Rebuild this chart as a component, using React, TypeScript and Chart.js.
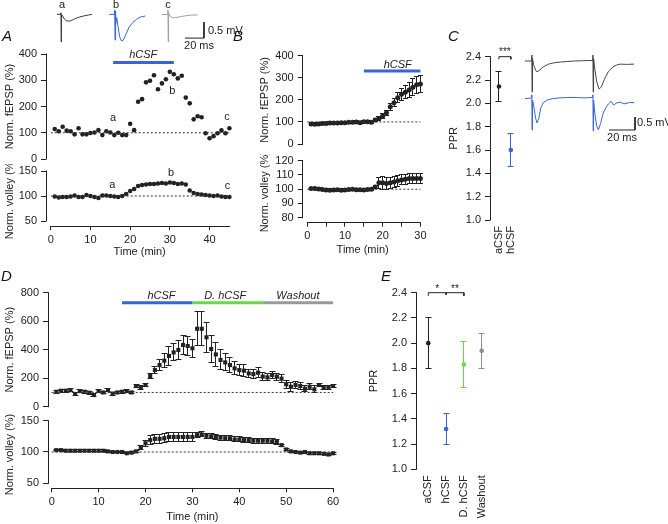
import React, { useEffect, useRef } from 'react';
import { Chart, registerables } from 'chart.js';

Chart.register(...registerables);

const FONT = '"Liberation Sans", Arial, Helvetica, sans-serif';
const INK = '#222222';
const BLUE = '#3b63d8';
const GREEN = '#62dc40';
const GREY = '#9a9a9a';

Chart.defaults.font.family = FONT;
Chart.defaults.font.size = 11;
Chart.defaults.color = INK;

// ---------------- Panel A ----------------
const timeA = [1,2,3,4,5,6,7,8,9,10,11,12,13,14,15,16,17,18,19,20,21,22,23,24,25,26,27,28,29,30,31,32,33,34,35,36,37,38,39,40,41,42,43,44,45];
const fepspA = [114,106,123,108,106,94,117,94,94,99,101,110,91,106,101,91,100,91,91,134,110,218,228,292,298,319,266,288,304,332,323,307,317,234,212,151,163,159,98,79,87,98,109,98,117];
const volleyA = [99,97,98,98,99,101,98,98,102,100,98,96,101,101,100,99,98,100,104,110,114,120,122,123,124,124,125,126,125,127,126,124,125,123,111,106,104,103,102,101,100,101,99,98,98];
const hcsfA = [15.7, 31];
const fepspTicksA = [0, 100, 200, 300, 400];
const volleyTicksA = [50, 100, 150];
const timeTicksA = [0, 10, 20, 30, 40];

// inset traces (ms, mV)
const traceATime = [2, 6, 6.3, 6.5, 6.8, 8, 10, 12, 15, 18, 22, 26, 30, 35, 39];
const traceAVolt = [0, 0, 0.05, -0.86, 0, -0.05, -0.15, -0.2, -0.21, -0.18, -0.12, -0.08, -0.05, -0.02, 0];
const traceBTime = [57, 62.5, 62.8, 63.2, 63.6, 64, 65, 66.5, 68, 70, 72, 75, 78, 82, 86, 90, 95];
const traceBVolt = [0, 0, 0.14, -0.8, 0.1, -0.3, -0.1, -0.4, -0.7, -0.83, -0.8, -0.6, -0.4, -0.25, -0.15, -0.08, -0.05];
const traceCTime = [112.6, 118.6, 118.9, 119.2, 119.6, 121, 124, 127, 132, 138, 144, 150];
const traceCVolt = [0, 0, 0.14, -0.86, 0.05, -0.05, -0.11, -0.1, -0.07, -0.04, -0.02, -0.02];
const scaleBarA = [156.8, -0.74]; // corner (ms, mV); 20 ms x 0.5 mV

// ---------------- Panel B ----------------
const timeB = [1,2,3,4,5,6,7,8,9,10,11,12,13,14,15,16,17,18,19,20,21,22,23,24,25,26,27,28,29,30];
const fepspB = [91,90,91,93,93,95,95,95,96,96,98,98,100,96,101,101,98,109,115,127,142,169,187,210,225,234,245,257,268,272];
const fepspBErr = [5,5,5,5,5,5,5,5,5,5,5,5,5,5,5,5,5,6,8,10,12,15,18,22,26,30,34,38,40,40];
const volleyB = [100.5,100.5,100.2,99.8,99.5,99.3,99.5,99.7,99.2,99.5,99.8,100,99.6,99.7,99.5,99.8,100,101.5,104.5,104.5,104,104.5,105,106,106.5,107,107.5,107.5,107.5,107.5];
const volleyBErr = [0.8,0.8,0.8,0.8,0.8,0.8,0.8,0.8,0.8,0.8,0.8,0.8,0.8,0.8,0.8,0.8,0.8,0.8,4,4.5,4.5,4,4,3.8,3.5,3.5,3.5,3.5,3.5,3.5];
const hcsfB = [15, 30];
const fepspTicksB = [0, 100, 200, 300, 400];
const volleyTicksB = [80, 90, 100, 110, 120];
const timeTicksB = [0, 5, 10, 15, 20, 25, 30];

// ---------------- Panel C ----------------
const pprCLabels = ['aCSF', 'hCSF'];
const pprCMean = [2.145, 1.6];
const pprCErr = [0.125, 0.14];
const pprTicks = [1.0, 1.2, 1.4, 1.6, 1.8, 2.0, 2.2, 2.4];
const ppBlackTime = [3.8,9,9.1,9.3,9.6,10.5,12,13.1,15,18,22,26,31,36,42,48,53,56,56.1,56.3,56.6,57.5,59,60.8,62.5,65,68,71,74,77,82,87.7];
const ppBlackVolt = [0,0,0.23,-1.19,0.1,-0.15,-0.35,-0.42,-0.35,-0.22,-0.12,-0.07,-0.04,-0.02,0,0.01,0.02,0.02,0.23,-1.19,0.1,-0.3,-0.8,-1.08,-1.0,-0.7,-0.4,-0.25,-0.16,-0.12,-0.13,-0.12];
const ppBlueTime = [3.8,9,9.1,9.3,9.6,10.5,12,13.1,14.5,16,18,21,25,30,40,50,56,56.1,56.3,56.6,57.5,59,60.3,62,64,66,68,70,72,74,77,80,84,87.7];
const ppBlueVolt = [-1.45,-1.42,-1.3,-2.65,-1.5,-1.7,-2.2,-2.38,-2.2,-1.8,-1.6,-1.5,-1.45,-1.42,-1.4,-1.42,-1.4,-1.3,-2.69,-1.5,-2.0,-2.5,-2.65,-2.4,-2.0,-1.8,-1.65,-1.55,-1.7,-1.62,-1.58,-1.65,-1.6,-1.6];
const scaleBarC = [88.5, -2.654];

// ---------------- Panel D ----------------
const timeD = [1,2,3,4,5,6,7,8,9,10,11,12,13,14,15,16,17,18,19,20,21,22,23,24,25,26,27,28,29,30,31,32,33,34,35,36,37,38,39,40,41,42,43,44,45,46,47,48,49,50,51,52,53,54,55,56,57,58,59,60];
const fepspD = [105,112,112,117,89,110,105,98,82,110,100,117,92,100,105,110,100,145,136,152,215,257,292,323,356,381,398,433,426,410,547,547,487,405,367,328,311,292,269,257,253,234,229,239,211,206,222,211,197,157,140,152,145,126,140,122,152,136,133,145];
const fepspDErr = [12,12,12,12,10,12,10,10,12,10,10,12,10,10,10,10,10,12,12,12,15,25,40,50,65,60,70,70,65,65,118,118,105,95,85,70,60,55,45,40,40,30,30,35,30,25,25,25,30,30,30,25,25,20,20,25,10,15,15,10];
const volleyD = [103,103,102,102,102,102,102,102,102,102,102,101,100,100,100,98,99,101,107,114,119,121,121,122,124,124,124,124,124,124,127,128,126,125,124,123,122,122,120,120,119,119,118,118,118,118,117,116,111,104,101,100,99,100,98,98,98,97,96,98];
const volleyDErr = [1.2,1.2,1.2,1.2,1.2,1.2,1.2,1.2,1.2,1.2,1.2,1.2,1.2,1.2,1.2,1.2,1.2,1.2,3,5,7,7,7,7,7,7,7,7,7,7,4,4,4,4,4,4,4,4,4,4,4,4,4,4,4,4,4,4,1.5,1.5,1.5,1.5,1.5,1.5,1.5,1.5,1.5,1.5,1.5,1.5];
const phasesD = ['hCSF', 'D. hCSF', 'Washout'];
const phaseStartD = [15, 30, 45];
const phaseEndD = [30, 45, 60];
const fepspTicksD = [0, 200, 400, 600, 800];
const volleyTicksD = [50, 100, 150];
const timeTicksD = [0, 10, 20, 30, 40, 50, 60];

// ---------------- Panel E ----------------
const pprELabels = ['aCSF', 'hCSF', 'D. hCSF', 'Washout'];
const pprEMean = [2.0, 1.32, 1.83, 1.94];
const pprEErr = [0.2, 0.12, 0.18, 0.14];

// ---------------- helpers ----------------
type Box = { left: number; top: number; width: number; height: number };
type Geo = { canvasLeft: number; left: number; right: number; top: number; bottom: number; xH: number; padT?: number; padB?: number; padR?: number };

function geom(g: Geo) {
  const padT0 = g.padT ?? 8;
  const padB = g.padB ?? 4;
  const padR = g.padR ?? 8;
  const cTop = Math.round(g.top - padT0);
  const padT = g.top - cTop;
  const W = Math.ceil(g.right - g.canvasLeft + padR);
  const H = Math.ceil(g.bottom - g.top + padT + g.xH + padB);
  return {
    box: { left: g.canvasLeft, top: cTop, width: W, height: H } as Box,
    yW: g.left - g.canvasLeft,
    xH: g.xH,
    padding: { left: 0, top: padT, right: W - (g.right - g.canvasLeft), bottom: H - (g.bottom - g.top + padT + g.xH) },
  };
}

const pts = (xs: number[], ys: number[]) => xs.map((x, i) => ({ x, y: ys[i] }));
const seg = (x0: number, x1: number, y: number) => [{ x: x0, y }, { x: x1, y }];

function lineDs(data: any[], color: string, width: number, dash: number[] = []) {
  return { type: 'line', data, borderColor: color, borderWidth: width, borderDash: dash, pointRadius: 0, showLine: true, fill: false, tension: 0, clip: false };
}
function dotDs(data: any[], color: string, r: number, style = 'circle', errors?: number[], cap = 2.5) {
  return {
    type: 'line', data, showLine: false, pointRadius: r, pointStyle: style,
    pointBackgroundColor: color, pointBorderColor: color, pointBorderWidth: 0,
    backgroundColor: color, borderColor: color, errors, cap, clip: false,
  };
}

function yAxis(min: number, max: number, ticks: number[], title: string, yW: number, fmt?: (v: number) => string) {
  return {
    type: 'linear', min, max, position: 'left',
    afterBuildTicks: (s: any) => { s.ticks = ticks.map((v) => ({ value: v })); },
    afterFit: (s: any) => { s.width = yW; s.paddingTop = 0; s.paddingBottom = 0; },
    grid: { display: true, drawOnChartArea: false, drawTicks: true, tickLength: 5, color: INK, lineWidth: 1 },
    border: { display: false },
    ticks: { color: INK, font: { family: FONT, size: 11 }, padding: 4, autoSkip: false, callback: (v: any) => (fmt ? fmt(Number(v)) : String(v)) },
    title: { display: !!title, text: title, color: INK, font: { family: FONT, size: 11 }, padding: 0 },
  };
}
function xAxis(min: number, max: number, ticks: number[], title: string, xH: number, labelEvery = 10) {
  return {
    type: 'linear', min, max, position: 'bottom',
    afterBuildTicks: (s: any) => { s.ticks = ticks.map((v) => ({ value: v })); },
    afterFit: (s: any) => { s.height = xH; s.paddingLeft = 0; s.paddingRight = 0; },
    grid: { display: true, drawOnChartArea: false, drawTicks: true, tickLength: 4, color: INK, lineWidth: 1 },
    border: { display: false },
    ticks: { color: INK, font: { family: FONT, size: 11 }, padding: 3, autoSkip: false, maxRotation: 0, minRotation: 0,
      callback: (v: any) => (Number(v) % labelEvery === 0 ? String(v) : '') },
    title: { display: !!title, text: title, color: INK, font: { family: FONT, size: 11 }, padding: 0 },
  };
}
function catAxis(min: number, max: number, labels: string[], xH: number) {
  return {
    type: 'linear', min, max, position: 'bottom',
    afterBuildTicks: (s: any) => { s.ticks = labels.map((_, i) => ({ value: i + 1 })); },
    afterFit: (s: any) => { s.height = xH; s.paddingLeft = 0; s.paddingRight = 0; },
    grid: { display: false, drawTicks: false, tickLength: 0 },
    border: { display: false },
    ticks: { color: INK, font: { family: FONT, size: 11 }, padding: 6, autoSkip: false, minRotation: 90, maxRotation: 90,
      callback: (v: any) => labels[Math.round(Number(v)) - 1] ?? '' },
  };
}
const hidden = (min: number, max: number) => ({ type: 'linear', display: false, min, max });

type Note = { x: number; y: number; text: string; size?: number; italic?: boolean; align?: string; color?: string };
function notesPlugin(items: Note[]) {
  return {
    id: 'notes',
    afterDraw(chart: any) {
      const { ctx } = chart;
      const xs = chart.scales.x, ys = chart.scales.y;
      ctx.save();
      for (const it of items) {
        ctx.font = `${it.italic ? 'italic ' : ''}${it.size ?? 11}px ${FONT}`;
        ctx.fillStyle = it.color ?? INK;
        ctx.textAlign = it.align ?? 'center';
        ctx.textBaseline = 'middle';
        ctx.fillText(it.text, xs.getPixelForValue(it.x), ys.getPixelForValue(it.y));
      }
      ctx.restore();
    },
  };
}
const al = (p: number) => Math.round(p - 0.5) + 0.5;
type AxLine = { axis: 'x' | 'y'; from: number; to: number };
function axesPlugin(lines: AxLine[]) {
  return {
    id: 'axesLines',
    afterDraw(chart: any) {
      const { ctx, chartArea } = chart;
      ctx.save();
      ctx.strokeStyle = INK;
      ctx.lineWidth = 1;
      ctx.beginPath();
      for (const l of lines) {
        if (l.axis === 'y') {
          const s = chart.scales.y;
          const x = al(chartArea.left);
          ctx.moveTo(x, s.getPixelForValue(l.from) + 0.5);
          ctx.lineTo(x, s.getPixelForValue(l.to) - 0.5);
        } else {
          const s = chart.scales.x;
          const y = al(chartArea.bottom);
          ctx.moveTo(s.getPixelForValue(l.from) - 0.5, y);
          ctx.lineTo(s.getPixelForValue(l.to) + 0.5, y);
        }
      }
      ctx.stroke();
      ctx.restore();
    },
  };
}
const errorBars = {
  id: 'errorBars',
  beforeDatasetsDraw(chart: any) {
    const { ctx } = chart;
    const xs = chart.scales.x, ys = chart.scales.y;
    chart.data.datasets.forEach((ds: any) => {
      if (!ds.errors) return;
      ctx.save();
      ctx.strokeStyle = ds.borderColor;
      ctx.lineWidth = 1;
      ctx.beginPath();
      ds.data.forEach((p: any, i: number) => {
        const e = ds.errors[i];
        if (!e) return;
        const x = al(xs.getPixelForValue(p.x));
        const y1 = ys.getPixelForValue(p.y + e);
        const y2 = ys.getPixelForValue(p.y - e);
        const c = ds.cap ?? 2.5;
        ctx.moveTo(x, y1); ctx.lineTo(x, y2);
        ctx.moveTo(x - c, al(y1)); ctx.lineTo(x + c, al(y1));
        ctx.moveTo(x - c, al(y2)); ctx.lineTo(x + c, al(y2));
      });
      ctx.stroke();
      ctx.restore();
    });
  },
};
Chart.register(errorBars as any);

function cfg(datasets: any[], scales: any, padding: any, plugins: any[]) {
  return {
    type: 'line',
    data: { datasets },
    options: {
      animation: false, responsive: false, maintainAspectRatio: false, events: [],
      layout: { padding },
      plugins: { legend: { display: false }, tooltip: { enabled: false }, title: { display: false } },
      scales,
    },
    plugins,
  } as any;
}

// ---------------- geometry ----------------
const A_X = [-1.2, 46];
const gA1 = geom({ canvasLeft: 3, left: 46, right: 46 + (A_X[1] - A_X[0]) * 3.97, top: 54, bottom: 159, xH: 0, padT: 8, padB: 8 });
const gA2 = geom({ canvasLeft: 3, left: 46, right: 46 + (A_X[1] - A_X[0]) * 3.97, top: 171, bottom: 226, xH: 33, padT: 7, padB: 2 });
const B_X = [-1.22, 30.6];
const gB1 = geom({ canvasLeft: 258, left: 302.7, right: 302.7 + (B_X[1] - B_X[0]) * 3.77, top: 55.7, bottom: 144, xH: 0, padT: 8, padB: 8 });
const gB2 = geom({ canvasLeft: 258, left: 302.7, right: 302.7 + (B_X[1] - B_X[0]) * 3.77, top: 160.7, bottom: 222.7, xH: 34, padT: 7, padB: 2 });
const C_X = [0.25, 2.6];
const gC = geom({ canvasLeft: 447, left: 490, right: 490 + (C_X[1] - C_X[0]) * 12.4, top: 56.7, bottom: 220, xH: 36, padT: 14, padB: 2, padR: 2 });
const D_X = [-0.79, 60.8];
const gD1 = geom({ canvasLeft: 3, left: 48, right: 48 + (D_X[1] - D_X[0]) * 4.69, top: 292.7, bottom: 406.7, xH: 0, padT: 8, padB: 8 });
const gD2 = geom({ canvasLeft: 3, left: 48, right: 48 + (D_X[1] - D_X[0]) * 4.69, top: 420.7, bottom: 488.3, xH: 35, padT: 7, padB: 0 });
const E_X = [0.31, 4.6];
const gE = geom({ canvasLeft: 367, left: 416, right: 416 + (E_X[1] - E_X[0]) * 17.8, top: 292.7, bottom: 469.3, xH: 52, padT: 14, padB: 2, padR: 4 });
const insetABox: Box = { left: 50, top: 0, width: 200, height: 52 };
const insetAPad = { left: 5, top: 0, right: 35, bottom: 2 };
const insetCBox: Box = { left: 515, top: 45, width: 153, height: 100 };
const insetCPad = { left: 5, top: 5, right: 28, bottom: 5 };

type Spec = { box: Box; make: () => any };

const specs: Spec[] = [
  // A top
  {
    box: gA1.box,
    make: () => cfg(
      [
        lineDs(seg(0, 45, 100), '#333', 1, [2, 2]),
        lineDs(seg(hcsfA[0], hcsfA[1], 368), BLUE, 3),
        dotDs(pts(timeA, fepspA), INK, 2.3),
      ],
      { x: hidden(A_X[0], A_X[1]), y: yAxis(0, 400, fepspTicksA, 'Norm. fEPSP (%)', gA1.yW) },
      gA1.padding,
      [axesPlugin([{ axis: 'y', from: 0, to: 400 }]), notesPlugin([
        { x: 23.3, y: 395, text: 'hCSF', italic: true },
        { x: 15.7, y: 156, text: 'a' }, { x: 30.6, y: 258, text: 'b' }, { x: 44.4, y: 161, text: 'c' },
      ])],
    ),
  },
  // A bottom
  {
    box: gA2.box,
    make: () => cfg(
      [lineDs(seg(0, 45, 100), '#333', 1, [2, 2]), dotDs(pts(timeA, volleyA), INK, 2.3)],
      { x: xAxis(A_X[0], A_X[1], timeTicksA, 'Time (min)', gA2.xH), y: yAxis(40, 150, volleyTicksA, 'Norm. volley (%)', gA2.yW) },
      gA2.padding,
      [axesPlugin([{ axis: 'y', from: 50, to: 150 }, { axis: 'x', from: 0, to: 45 }]), notesPlugin([
        { x: 15.5, y: 122, text: 'a' }, { x: 30.3, y: 147, text: 'b' }, { x: 44.5, y: 120, text: 'c' },
      ])],
    ),
  },
  // A inset traces
  {
    box: insetABox,
    make: () => cfg(
      [
        lineDs(pts(traceATime, traceAVolt), '#3a3a3a', 1),
        lineDs(pts(traceBTime, traceBVolt), BLUE, 1),
        lineDs(pts(traceCTime, traceCVolt), '#a0a0a0', 1),
        lineDs([{ x: scaleBarA[0], y: scaleBarA[1] + 0.5 }, { x: scaleBarA[0], y: scaleBarA[1] }, { x: scaleBarA[0] - 20, y: scaleBarA[1] }], INK, 1),
      ],
      { x: hidden(0, 160 / 0.95), y: hidden(0.45 - 50 / 32, 0.45) },
      insetAPad,
      [notesPlugin([
        { x: 7.4, y: 0.29, text: 'a' }, { x: 64.2, y: 0.29, text: 'b' }, { x: 119, y: 0.29, text: 'c' },
        { x: 161, y: -0.52, text: '0.5 mV', align: 'left' }, { x: 151.6, y: -0.99, text: '20 ms' },
      ])],
    ),
  },
  // B top
  {
    box: gB1.box,
    make: () => cfg(
      [
        lineDs(seg(0, 30, 100), '#333', 1, [2, 2]),
        lineDs(seg(hcsfB[0], hcsfB[1], 331), BLUE, 3),
        dotDs(pts(timeB, fepspB), INK, 2.5, 'circle', fepspBErr, 2.5),
      ],
      { x: hidden(B_X[0], B_X[1]), y: yAxis(0, 400, fepspTicksB, 'Norm. fEPSP (%)', gB1.yW) },
      gB1.padding,
      [axesPlugin([{ axis: 'y', from: 0, to: 400 }]), notesPlugin([{ x: 24, y: 358, text: 'hCSF', italic: true }])],
    ),
  },
  // B bottom
  {
    box: gB2.box,
    make: () => cfg(
      [lineDs(seg(0, 30, 100), '#333', 1, [2, 2]), dotDs(pts(timeB, volleyB), INK, 2.5, 'circle', volleyBErr, 2.5)],
      { x: xAxis(B_X[0], B_X[1], timeTicksB, 'Time (min)', gB2.xH), y: yAxis(76.5, 120, volleyTicksB, 'Norm. volley (%)', gB2.yW) },
      gB2.padding,
      [axesPlugin([{ axis: 'y', from: 80, to: 120 }, { axis: 'x', from: 0, to: 30 }])],
    ),
  },
  // C
  {
    box: gC.box,
    make: () => cfg(
      [
        dotDs([{ x: 1, y: pprCMean[0] }], INK, 2.3, 'circle', [pprCErr[0]], 3),
        dotDs([{ x: 2, y: pprCMean[1] }], BLUE, 2.3, 'circle', [pprCErr[1]], 3),
        lineDs([{ x: 1, y: 2.378 }, { x: 1, y: 2.4 }, { x: 2, y: 2.4 }, { x: 2, y: 2.378 }], INK, 1),
      ],
      { x: catAxis(C_X[0], C_X[1], pprCLabels, gC.xH), y: yAxis(1.0, 2.4, pprTicks, 'PPR', gC.yW, (v) => v.toFixed(1)) },
      gC.padding,
      [axesPlugin([{ axis: 'y', from: 1.0, to: 2.4 }]), notesPlugin([{ x: 1.5, y: 2.44, text: '***', size: 10 }])],
    ),
  },
  // C traces
  {
    box: insetCBox,
    make: () => cfg(
      [
        lineDs(pts(ppBlackTime, ppBlackVolt), '#444', 1),
        lineDs(pts(ppBlueTime, ppBlueVolt), BLUE, 1),
        lineDs([{ x: scaleBarC[0], y: scaleBarC[1] + 0.5 }, { x: scaleBarC[0], y: scaleBarC[1] }, { x: scaleBarC[0] - 20, y: scaleBarC[1] }], INK, 1),
      ],
      { x: hidden(0, 120 / 1.3), y: hidden(11 / 26 - 90 / 26, 11 / 26) },
      insetCPad,
      [notesPlugin([{ x: 90, y: -2.38, text: '0.5 mV', align: 'left' }, { x: 78.5, y: -2.96, text: '20 ms' }])],
    ),
  },
  // D top
  {
    box: gD1.box,
    make: () => cfg(
      [
        lineDs(seg(0, 60, 100), '#333', 1, [2, 2]),
        lineDs(seg(phaseStartD[0], phaseEndD[0], 730), BLUE, 3),
        lineDs(seg(phaseStartD[1], phaseEndD[1], 730), GREEN, 3),
        lineDs(seg(phaseStartD[2], phaseEndD[2], 730), GREY, 3),
        dotDs(pts(timeD, fepspD), INK, 2.9, 'rect', fepspDErr, 3),
      ],
      { x: hidden(D_X[0], D_X[1]), y: yAxis(0, 800, fepspTicksD, 'Norm. fEPSP (%)', gD1.yW) },
      gD1.padding,
      [axesPlugin([{ axis: 'y', from: 0, to: 800 }]), notesPlugin([
        { x: 23.4, y: 777, text: phasesD[0], italic: true },
        { x: 37, y: 777, text: phasesD[1], italic: true },
        { x: 52.5, y: 777, text: phasesD[2], italic: true },
      ])],
    ),
  },
  // D bottom
  {
    box: gD2.box,
    make: () => cfg(
      [lineDs(seg(0, 60, 100), '#333', 1, [2, 2]), dotDs(pts(timeD, volleyD), INK, 2.9, 'rect', volleyDErr, 3)],
      { x: xAxis(D_X[0], D_X[1], timeTicksD, 'Time (min)', gD2.xH), y: yAxis(42, 150, volleyTicksD, 'Norm. volley (%)', gD2.yW) },
      gD2.padding,
      [axesPlugin([{ axis: 'y', from: 50, to: 150 }, { axis: 'x', from: 0, to: 60 }])],
    ),
  },
  // E
  {
    box: gE.box,
    make: () => cfg(
      [
        dotDs([{ x: 1, y: pprEMean[0] }], INK, 2.3, 'circle', [pprEErr[0]], 3),
        dotDs([{ x: 2, y: pprEMean[1] }], BLUE, 2.3, 'circle', [pprEErr[1]], 3),
        dotDs([{ x: 3, y: pprEMean[2] }], GREEN, 2.3, 'circle', [pprEErr[2]], 3),
        dotDs([{ x: 4, y: pprEMean[3] }], '#8c8c8c', 2.3, 'circle', [pprEErr[3]], 3),
        lineDs([{ x: 1, y: 2.375 }, { x: 1, y: 2.4 }, { x: 2, y: 2.4 }, { x: 2, y: 2.385 }], INK, 1),
        lineDs([{ x: 2, y: 2.385 }, { x: 2, y: 2.4 }, { x: 3, y: 2.4 }, { x: 3, y: 2.375 }], INK, 1),
      ],
      { x: catAxis(E_X[0], E_X[1], pprELabels, gE.xH), y: yAxis(1.0, 2.4, pprTicks, 'PPR', gE.yW, (v) => v.toFixed(1)) },
      gE.padding,
      [axesPlugin([{ axis: 'y', from: 1.0, to: 2.4 }]), notesPlugin([
        { x: 1.5, y: 2.43, text: '*', size: 10 }, { x: 2.5, y: 2.43, text: '**', size: 10 },
      ])],
    ),
  },
];

const letters = [
  { t: 'A', left: 2, top: 28 },
  { t: 'B', left: 233, top: 28 },
  { t: 'C', left: 448, top: 28 },
  { t: 'D', left: 1, top: 268 },
  { t: 'E', left: 381, top: 268 },
];

export default function App() {
  const refs = useRef<(HTMLCanvasElement | null)[]>([]);
  useEffect(() => {
    const charts = specs.map((s, i) => new Chart(refs.current[i] as HTMLCanvasElement, s.make()));
    return () => charts.forEach((c) => c.destroy());
  }, []);
  return (
    <div style={{ position: 'absolute', left: 0, top: 0, width: 668, height: 524, overflow: 'hidden', background: '#fff', fontFamily: FONT }}>
      {specs.map((s, i) => (
        <canvas
          key={i}
          ref={(el) => { refs.current[i] = el; }}
          width={s.box.width}
          height={s.box.height}
          style={{ position: 'absolute', left: s.box.left, top: s.box.top, width: s.box.width, height: s.box.height }}
        />
      ))}
      {letters.map((l) => (
        <div key={l.t} style={{ position: 'absolute', left: l.left, top: l.top, fontSize: 15, lineHeight: '16px', fontStyle: 'italic', color: '#111' }}>
          {l.t}
        </div>
      ))}
    </div>
  );
}
